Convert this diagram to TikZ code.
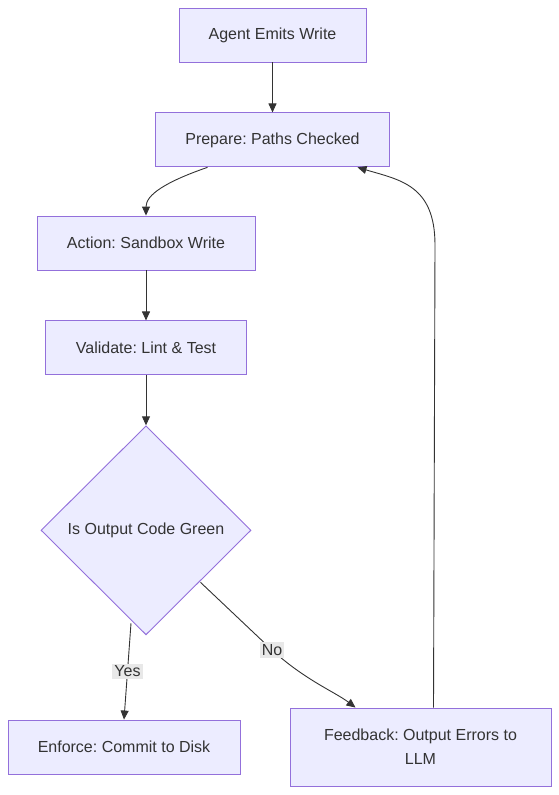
\documentclass[tikz,border=0pt]{standalone}
\usepackage{fontspec}
\setmainfont{Liberation Sans}
\frenchspacing
\usepackage{tikz}
\usetikzlibrary{shapes.geometric, arrows.meta, positioning}
\definecolor{mmfill}{HTML}{ECECFF}
\definecolor{mmline}{HTML}{9370DB}
\definecolor{mmtext}{HTML}{333333}
\definecolor{mmlabel}{HTML}{E8E8E8}
\tikzset{
    process/.style={rectangle, minimum height=54pt, align=center, draw=mmline, fill=mmfill, text=mmtext, line width=0.9pt, font=\fontsize{16}{24}\selectfont},
    decision/.style={diamond, aspect=1, minimum width=210pt, minimum height=209pt, inner sep=0pt, align=center, draw=mmline, fill=mmfill, text=mmtext, line width=0.9pt, font=\fontsize{16}{24}\selectfont},
    edgelabel/.style={fill=mmlabel, text=mmtext, inner sep=2pt, font=\fontsize{16}{20}\selectfont},
    arrow/.style={draw=mmtext, line width=0.9pt, -{Triangle[length=9pt,width=8pt]}}
}
\begin{document}
\begin{tikzpicture}[x=1pt, y=-1pt, node distance=50pt]
    \useasboundingbox (0,0) rectangle (558,795);
    \node (emit) [process, minimum width=187pt] at (272.5,35) {Agent Emits Write};
    \node (prepare) [process, minimum width=234pt, below=of emit] {Prepare: Paths Checked};
    \node (action) [process, minimum width=218pt] at (146,243) {Action: Sandbox Write};
    \node (validate) [process, minimum width=201pt, below=of action] {Validate: Lint \& Test};
    \node (green) [decision, below=of validate] {Is Output Code Green};
    \node (enforce) [process, minimum width=232pt] at (124,747) {Enforce: Commit to Disk};
    \node (feedback) [process, minimum width=261pt, minimum height=78pt] at (420.5,747) {Feedback: Output Errors to\\LLM};

    \draw [arrow] (emit) -- (prepare);
    \draw [arrow] ([xshift=-65pt]prepare.south) .. controls (165,182) and (146,195) .. (action.north);
    \draw [arrow] (action) -- (validate);
    \draw [arrow] (validate) -- (green);
    \draw [arrow] ([shift={(-15,-12)}]green.south) -- node[edgelabel, pos=0.5] {Yes} (enforce.north);
    \draw [arrow] ([shift={(-51,52)}]green.east) -- (272,650) node[edgelabel] {No} .. controls (305,680) and (335,692) .. ([xshift=-65pt]feedback.north);
    \draw [arrow] ([xshift=13pt]feedback.north) -- (435,245) .. controls (435,185) and (400,180) .. ([xshift=85pt]prepare.south);
\end{tikzpicture}
\end{document}
